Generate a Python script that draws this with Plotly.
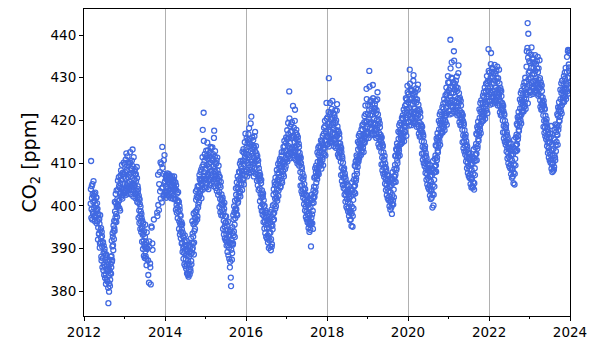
import pandas as pd
import plotly.graph_objects as go

N = None
# CO2 readings (ppm): set "a" every 4 days from the start date, set "b" offset by 2 days
co2_2012a = [400.5,410.5,399.2,401.8,405.1,398.6,400.9,402.3, 399.5,401.2,397.8,400.3,398.9,402.0,399.1,
             396.4,398.2,394.9,397.0,393.5,395.8,391.2,394.3, 392.6,388.1,393.9,390.4,387.7,391.5,388.9,386.2,
             389.3,385.8,387.4,383.9,388.6,384.7,386.1, 382.3,385.2,377.2,383.6,381.8,384.9,382.7,386.4,
             384.1,388.2,386.9,390.5,392.8,389.6,394.2, 396.5,394.1,398.7,397.3,400.6,396.2,399.8,401.5,
             400.2,403.8,401.1,404.6,399.4,402.9,405.3, 403.1,406.2,404.0,402.5,407.4,405.1,403.7,406.8]
co2_2012b = [403.9,397.2,404.6,396.8,402.7,398.1,405.8,397.5, 402.8,396.4,403.1,397.3,401.9,395.9,400.6,
             399.3,392.1,398.0,393.4,396.9,390.2,397.8,391.5, 394.8,387.2,392.9,385.6,391.3,384.9,390.7,383.8,
             389.9,383.1,388.4,381.7,387.9,382.6,385.2, 386.9,380.8,385.7,379.9,387.4,381.2,384.3,388.1,
             385.6,391.8,387.3,393.6,390.8,395.4,392.2, 394.7,400.9,396.3,402.8,398.1,403.6,397.4,400.2,
             405.9,399.8,406.7,401.3,404.2,398.9,407.1, 408.3,402.1,409.6,401.7,407.8,403.2,410.1,402.9]
co2_2013a = [405.2,407.9,403.6,406.4,412.3,404.8,408.1,402.9, 406.7,409.5,404.2,407.3,405.6,410.1,403.8,
             406.9,404.5,408.6,413.2,405.3,407.7,403.4,406.1, 404.9,407.2,402.8,405.8,403.6,406.5,401.9,
             403.2,400.7,402.4,398.9,401.5,397.6,399.8,396.3, 398.1,394.7,396.5,393.2,395.9,391.8,394.1,390.5,
             392.7,389.4,390.3,387.6,393.8,390.1,N, 387.2,N,382.0,390.4,N,385.6,381.6,N,
             394.9,N,389.7,N,N,396.8,N, N,N,N,N,N,N,397.6,N,
             400.2,N,405.1,N,403.4,410.2,N, 409.8,400.8,413.8,404.3,407.5,N,402.6,411.9]
co2_2013b = [409.7,403.1,410.8,402.6,408.4,404.0,411.6,405.3, 410.2,403.6,409.9,404.8,412.6,402.7,408.8,
             403.9,410.6,405.0,409.3,402.2,411.4,404.7,408.2, 408.6,401.8,407.4,403.0,409.1,400.9,404.6,
             403.9,397.2,401.8,396.0,400.4,394.6,398.7,393.9, 397.1,391.6,395.2,389.9,393.4,388.3,391.1,387.8,
             395.6,388.2,391.5,386.1,389.9,N,N, 383.8,N,391.7,N,386.5,N,N,395.2,
             N,391.2,N,N,N,N,N, N,N,N,N,N,398.4,N,407.3,
             N,399.0,N,407.9,N,401.7,N, 404.1,N,408.9,N,402.3,410.7,N,405.5]
co2_2014a = [405.8,403.1,406.7,404.4,407.2,402.6,405.9,404.1, 406.5,403.7,405.2,407.0,404.6,402.9,406.3,
             404.8,406.9,403.5,405.7,402.4,406.1,404.3,405.5, 403.9,401.6,404.8,400.2,402.9,399.5,401.3,
             398.7,400.9,396.4,399.1,395.8,397.6,393.9,396.2, 394.5,391.3,393.7,390.1,392.5,388.9,391.6,389.4,
             390.7,387.5,389.9,386.2,388.8,384.1,387.3, 383.4,388.1,386.0,390.3,385.2,388.7,387.1,391.4,
             389.8,393.5,391.2,395.7,388.6,394.1,397.3, 398.6,396.2,401.4,399.0,403.8,397.5,401.9,400.3,
             404.6,402.1,406.3,403.5,407.9,405.2,401.8, 406.4,409.2,417.8,405.7,421.8,407.9,410.6,404.3]
co2_2014b = [402.7,407.1,401.9,406.2,403.3,407.6,402.4,405.4, 407.4,402.2,406.8,403.1,405.9,401.8,404.7,
             402.9,406.5,401.7,405.1,403.8,406.9,401.5,404.0, 405.5,399.1,403.6,398.4,401.0,397.1,403.2,
             401.0,394.6,399.9,393.3,397.9,392.4,395.4,391.2, 395.7,389.2,392.9,387.6,390.5,386.3,393.1,385.9,
             391.9,385.3,390.8,384.2,389.4,383.8,386.5, 385.1,390.9,383.9,389.4,384.6,392.4,386.3,389.0,
             396.4,390.1,392.8,398.2,391.4,395.9,394.6, 397.1,403.4,398.5,402.1,396.8,404.6,399.6,403.0,
             400.9,407.2,402.7,405.9,403.4,408.5,406.0, 405.0,411.4,403.8,409.7,415.2,407.0,412.1,406.3]
co2_2015a = [408.7,411.3,406.2,409.5,414.8,407.4,410.9,405.8, 409.1,412.4,407.6,410.2,406.1,413.5,408.3,
             410.7,407.2,412.1,409.3,415.9,408.6,411.5,406.9, 409.8,407.1,410.6,405.4,408.3,404.7,407.5,
             405.9,403.2,406.8,401.6,404.4,400.3,402.7,399.1, 401.4,397.8,400.2,396.5,399.3,395.1,397.6,394.2,
             396.1,393.4,395.3,391.6,394.5,390.8,393.1, 390.2,392.8,385.6,391.4,383.2,389.7,392.1,388.9,
             393.6,391.2,396.8,394.0,398.5,392.7,397.1, 399.4,402.6,398.1,401.5,404.3,400.7,403.9,406.2,
             405.1,407.8,403.4,406.6,409.2,404.9,408.1, 407.3,410.5,406.1,409.8,412.4,408.2,411.6,416.9]
co2_2015b = [405.2,412.9,404.3,411.7,406.9,413.0,403.9,409.8, 406.1,411.6,404.9,413.8,408.0,405.3,411.2,
             413.7,405.8,410.9,404.6,417.6,406.4,412.8,408.0, 404.2,410.0,403.5,411.3,406.3,402.6,409.4,
             406.9,399.7,404.8,398.5,405.6,397.8,401.3,400.5, 401.9,394.6,398.7,393.3,400.7,392.4,396.0,391.9,
             397.5,390.7,392.3,389.2,396.3,388.4,391.5, 387.6,393.9,386.9,394.3,381.2,391.0,387.4,395.0,
             390.9,397.8,393.1,399.9,395.6,401.2,399.0, 404.1,399.2,405.5,397.8,406.9,401.0,402.3,408.0,
             403.0,409.9,402.2,410.5,405.3,408.6,403.7, 412.7,406.4,413.3,405.0,410.9,414.9,407.1,412.2]
co2_2016a = [410.3,413.7,408.5,412.1,415.4,409.6,411.9,418.2, 411.4,414.6,409.2,412.8,420.9,410.7,413.3,
             412.5,409.8,414.1,411.2,416.3,408.9,412.7,410.4, 411.8,408.6,410.9,407.3,409.7,406.2,408.8,
             406.5,404.1,407.2,402.8,405.3,401.9,403.6,400.4, 402.1,398.7,401.3,397.5,400.0,396.3,398.9,395.6,
             397.2,394.8,396.4,393.1,395.7,392.4,394.9, 391.9,396.1,393.7,389.6,395.2,390.4,397.3,394.5,
             398.1,402.6,396.8,400.4,404.9,399.3,403.1, 405.2,401.7,403.9,407.6,404.8,402.3,406.7,408.9,
             406.1,409.4,404.6,408.2,411.8,405.9,409.1, 410.3,407.4,412.6,409.8,413.9,408.6,411.2,414.7]
co2_2016b = [408.0,415.9,406.9,414.6,410.0,416.8,407.7,413.9, 415.7,408.4,419.3,407.8,414.2,410.3,416.0,
             408.1,415.4,406.9,413.6,410.1,417.3,407.5,414.0, 412.3,405.9,411.7,404.8,410.6,403.7,407.2,
             407.8,401.1,405.9,399.7,406.1,398.8,402.6,397.9, 402.9,396.2,399.9,394.7,398.4,393.6,397.3,392.7,
             398.4,392.3,397.5,391.4,396.6,390.1,393.6, 396.9,390.5,398.5,392.2,399.1,391.0,395.4,400.1,
             396.7,403.9,398.4,405.6,401.7,406.6,399.9, 402.0,408.4,401.2,406.1,409.8,403.6,407.7,410.4,
             411.0,404.3,410.6,406.9,412.6,405.4,410.1, 408.1,413.8,406.9,415.2,410.4,412.9,409.2,416.0]
co2_2017a = [412.9,415.6,410.4,414.1,416.8,411.7,426.8,413.5, 414.7,417.3,412.2,415.9,419.6,413.4,416.2,
             413.1,416.4,411.8,414.9,422.5,412.6,415.7,417.8, 414.2,411.5,415.3,412.7,410.9,413.8,411.1,
             410.4,407.9,411.2,406.5,409.1,404.8,407.6,403.9, 406.2,402.7,405.1,401.4,403.9,399.8,402.5,398.6,
             401.3,398.1,400.2,396.9,399.4,395.7,397.8, 396.4,399.6,390.5,397.2,401.3,395.9,398.8,402.1,
             400.7,404.5,402.1,406.8,403.3,407.9,405.4, 408.6,406.2,410.3,407.7,411.9,409.1,412.4,410.6,
             411.3,413.8,409.9,412.6,415.1,410.8,414.2, 413.6,416.9,412.1,415.4,418.7,414.2,417.3,424.1]
co2_2017b = [410.9,417.7,411.9,419.4,412.2,416.0,420.5,411.1, 418.6,412.5,419.1,413.7,417.5,411.9,423.4,
             411.2,418.3,412.7,419.9,413.5,417.1,410.7,416.6, 416.6,409.9,416.1,410.3,414.5,409.4,412.4,
             411.6,404.7,410.0,403.4,408.6,402.8,406.2,401.9, 406.9,400.4,404.0,398.9,402.6,397.4,400.9,396.8,
             402.4,396.1,400.9,394.8,398.3,393.9,396.0, 394.4,401.4,396.0,402.6,398.0,400.8,394.6,403.6,
             401.9,406.6,403.0,408.8,404.4,409.4,407.0, 406.9,412.5,408.1,413.6,407.4,414.0,409.6,412.9,
             410.2,415.3,408.7,414.6,411.3,416.4,409.5, 412.4,418.3,413.5,419.9,411.8,417.5,416.2,420.4]
co2_2018a = [416.3,419.2,414.5,417.8,429.9,415.9,418.6,421.4, 417.4,420.3,415.6,418.9,424.6,416.8,419.5,
             418.2,415.3,420.7,416.9,419.4,414.6,417.7,422.3, 416.5,413.9,417.6,414.8,412.7,415.9,413.2,
             412.8,410.3,413.5,408.9,411.6,407.4,410.1,406.6, 408.4,405.1,407.6,403.8,406.3,402.5,404.9,401.6,
             403.7,400.9,402.8,399.6,401.7,398.4,400.5, 398.9,402.3,395.3,399.8,403.6,397.6,401.4,404.5,
             403.2,407.1,404.8,409.3,405.9,410.6,408.2, 411.4,409.1,413.2,410.4,414.6,411.8,415.3,413.5,
             413.9,416.4,412.5,415.2,417.8,413.6,416.7, 416.1,419.6,414.8,418.2,421.5,416.9,427.4,419.8]
co2_2018b = [414.3,420.8,416.1,422.0,413.9,419.3,424.1,415.2, 421.9,415.0,422.7,414.8,420.6,417.1,421.7,
             414.0,421.3,415.7,422.4,413.6,420.0,416.2,423.8, 418.6,412.0,417.3,411.5,416.9,411.3,414.6,
             413.9,407.2,412.6,405.8,411.1,404.9,408.4,404.1, 408.8,402.6,406.9,401.0,405.5,399.8,403.3,399.4,
             404.9,398.7,403.3,397.6,402.2,396.7,398.6, 396.8,403.8,398.2,405.5,395.1,402.6,399.4,406.1,
             404.6,409.4,402.9,410.4,406.4,411.8,407.5, 409.9,415.0,410.8,416.4,411.2,416.9,413.9,414.7,
             411.9,417.9,413.1,418.9,414.4,419.1,412.6, 414.9,421.0,416.3,423.5,415.6,419.7,425.0,417.4]
co2_2019a = [418.5,421.6,416.9,420.3,431.6,418.1,421.2,424.7, 419.6,422.8,417.9,421.4,428.3,419.1,422.1,
             420.4,417.6,422.9,419.2,421.7,416.8,420.1,424.9, 418.9,416.2,419.8,417.1,415.3,418.4,415.7,
             415.1,412.6,416.0,411.3,414.2,409.8,412.5,408.9, 410.8,407.5,409.9,406.2,408.7,404.9,407.3,404.1,
             406.3,403.4,405.5,402.2,404.4,401.1,403.2, 401.6,404.9,398.1,402.5,406.1,400.3,403.8,406.9,
             405.7,409.6,407.3,411.8,408.4,413.1,410.6, 413.9,411.5,415.7,412.9,417.1,414.3,417.8,415.9,
             416.4,419.1,414.9,417.8,420.4,416.2,419.3, 418.8,421.9,417.3,420.6,423.8,419.4,422.5,428.1]
co2_2019b = [417.2,423.6,415.9,422.4,427.9,419.3,424.3,416.5, 424.6,418.1,423.8,416.9,425.2,419.4,422.7,
             416.6,423.8,418.3,424.6,415.9,422.4,417.9,426.6, 421.4,414.4,420.2,413.7,419.3,413.9,416.6,
             416.1,409.7,414.7,408.3,413.9,407.5,410.9,406.8, 411.7,405.2,409.1,403.7,408.0,402.5,405.9,401.8,
             407.1,401.3,405.8,399.9,404.6,399.1,401.0, 399.6,406.2,400.4,407.9,401.3,405.4,402.0,408.6,
             406.9,411.7,405.6,413.3,408.8,414.6,410.0, 412.2,417.4,413.4,418.9,411.8,419.4,414.5,417.0,
             414.6,420.6,415.6,421.2,416.9,422.5,415.1, 417.6,423.4,418.6,425.2,416.4,424.9,421.8,426.6]
co2_2020a = [421.2,424.3,419.6,422.9,431.9,420.8,423.7,426.9, 422.1,425.2,420.4,423.8,429.3,421.6,424.5,
             422.8,419.9,425.1,421.5,424.2,419.1,422.4,427.2, 421.3,418.6,422.2,419.5,417.7,420.8,418.1,
             417.6,415.1,418.5,413.8,416.7,412.3,415.0,411.4, 413.3,410.0,412.4,408.7,411.2,407.4,409.8,406.6,
             408.8,405.9,408.0,404.7,406.9,403.6,405.7, 403.9,407.2,399.6,404.8,408.4,402.6,406.1,409.2,
             407.9,411.8,409.5,414.0,410.7,415.3,412.9, 416.1,413.7,417.9,415.1,419.3,416.5,420.0,418.1,
             418.7,421.4,417.2,420.1,422.7,418.5,421.6, 421.1,424.2,419.6,422.9,426.1,421.7,424.8,430.4]
co2_2020b = [419.6,426.2,418.8,425.0,428.6,421.4,427.3,418.9, 427.1,420.6,426.3,419.4,430.6,422.0,425.9,
             419.3,426.6,420.7,427.5,418.5,424.9,420.5,428.4, 423.7,416.9,422.6,416.2,421.9,416.4,419.1,
             418.8,412.2,417.2,410.8,416.3,410.0,413.5,409.3, 414.0,407.7,411.7,406.1,410.4,405.0,408.4,404.3,
             409.6,403.8,408.4,402.4,407.1,401.6,403.5, 401.9,408.7,402.8,410.5,400.1,407.8,404.5,411.0,
             409.4,414.2,408.0,415.8,411.3,417.0,412.5, 414.6,419.9,415.9,421.4,414.3,422.0,417.0,419.5,
             417.2,423.1,418.1,423.9,419.3,425.0,417.7, 420.0,425.9,421.2,427.7,419.0,426.5,424.2,428.9]
co2_2021a = [423.9,427.1,422.2,425.6,438.9,423.4,426.4,433.6, 424.8,427.9,423.1,426.5,436.2,424.3,427.2,
             425.5,422.6,427.8,424.2,426.9,421.8,425.1,431.1, 424.0,421.3,424.9,422.2,420.4,423.5,420.8,
             420.3,417.8,421.2,416.5,419.4,415.0,417.7,414.1, 416.0,412.7,415.1,411.4,413.9,410.1,412.5,409.3,
             411.5,408.6,410.7,407.4,409.6,406.3,408.4, 406.6,409.9,404.3,407.5,411.1,405.3,408.8,411.9,
             410.6,414.5,412.2,416.7,413.4,418.0,415.6, 418.8,416.4,420.6,417.8,422.0,419.2,422.7,420.8,
             421.4,424.1,419.9,422.8,425.4,421.2,424.3, 423.8,426.9,422.3,425.6,428.8,424.4,427.5,436.7]
co2_2021b = [422.3,428.9,421.4,427.7,432.2,424.1,430.0,421.6, 429.8,423.3,428.9,422.1,434.0,424.7,428.6,
             421.9,429.3,423.4,430.3,421.2,427.6,423.2,432.9, 426.4,419.6,425.3,418.9,424.6,419.1,421.8,
             421.5,414.9,419.9,413.5,419.0,412.7,416.2,412.0, 416.7,410.4,414.4,408.8,413.1,407.7,411.1,407.0,
             412.3,406.5,411.1,405.1,409.8,404.3,406.2, 404.6,411.4,405.5,413.2,403.8,410.5,407.2,413.7,
             412.1,416.9,410.7,418.5,414.0,419.7,415.2, 417.3,422.6,418.6,424.1,417.0,424.7,419.7,422.2,
             419.9,425.8,420.8,426.6,422.0,427.7,420.4, 422.7,428.6,423.9,430.4,421.7,429.2,426.9,431.6]
co2_2022a = [426.1,429.3,424.4,427.8,433.2,425.6,428.6,431.4, 427.0,430.1,425.3,428.7,426.2,429.4,424.9,
             427.7,424.8,430.0,426.4,429.1,424.0,427.3,425.6, 426.2,423.5,427.1,424.4,422.6,425.7,423.0,
             422.5,420.0,423.4,418.7,421.6,417.2,419.9,416.3, 418.2,414.9,417.3,413.6,416.1,412.3,414.7,411.5,
             413.7,410.8,412.9,409.6,411.8,408.5,410.6, 408.8,412.1,405.3,409.7,413.3,407.5,411.0,414.1,
             412.8,416.7,414.4,418.9,415.6,420.2,417.8, 421.0,418.6,422.8,420.0,424.2,421.4,424.9,423.0,
             423.6,426.3,422.1,425.0,427.6,423.4,426.5, 426.0,429.1,436.2,427.8,442.8,434.7,429.7,435.9]
co2_2022b = [424.6,431.2,423.7,430.0,435.8,426.4,432.3,423.9, 432.1,425.6,431.2,424.4,433.0,427.0,430.9,
             424.2,431.6,425.7,432.6,423.5,429.9,425.5,431.9, 428.7,421.9,427.6,421.2,426.9,421.4,424.1,
             423.8,417.2,422.2,415.8,421.3,415.0,418.5,414.3, 419.0,412.7,416.7,411.1,415.4,410.0,413.4,409.3,
             414.6,408.8,413.4,407.4,412.1,406.6,408.5, 406.9,413.7,407.8,415.5,405.0,412.8,409.5,416.0,
             414.4,419.2,413.0,420.8,416.3,422.0,417.5, 419.6,424.9,420.9,426.4,419.3,427.0,422.0,424.5,
             422.2,428.1,423.1,428.9,424.3,430.0,422.7, 425.0,432.6,426.2,437.0,424.0,440.3,431.2,433.9]
co2_2023a = [428.3,431.5,426.6,430.0,435.4,427.8,430.8,433.6, 429.2,432.3,427.5,430.9,428.4,431.6,427.1,
             429.9,427.0,432.2,428.6,431.3,426.2,429.5,427.8, 427.4,424.7,428.3,425.6,423.8,426.9,424.2,
             423.7,421.2,424.6,419.9,422.8,418.4,421.1,417.5, 419.4,416.1,418.5,414.8,417.3,413.5,415.9,412.7,
             414.9,412.0,416.1,410.8,413.0,409.7,411.8, 410.0,413.3,408.5,411.9,415.5,410.7,414.2,417.3,
             415.0,418.9,416.6,421.1,417.8,422.4,420.0, 423.2,420.8,425.0,422.2,426.4,423.6,427.1,425.2,
             425.8,428.5,424.3,427.2,429.8,425.6,428.7, 428.2,431.3,426.8,430.1,436.5,429.9,432.4,435.8]
co2_2023b = [426.9,433.5,426.0,432.3,437.1,428.7,434.6,426.2, 434.4,427.9,433.5,426.7,435.3,429.3,433.2,
             426.5,433.9,428.0,434.9,425.8,432.2,427.8,434.1, 429.9,423.2,428.9,422.5,428.2,422.7,425.4,
             424.1,418.5,423.5,417.1,422.6,416.3,419.8,415.6, 420.3,414.0,418.0,412.4,416.7,411.3,414.7,410.6,
             416.9,410.1,418.7,408.7,414.4,407.9,410.8, 408.2,415.8,409.1,417.8,411.3,419.1,412.8,418.3,
             416.7,421.5,414.3,423.1,418.6,424.3,419.8, 421.9,427.2,423.2,428.7,421.6,429.3,424.3,426.8,
             424.5,430.4,425.4,431.2,426.6,432.3,425.0, 427.3,434.9,428.5,436.2,426.3,433.1,431.6,436.4]

series_start = [
    ("2012-03-01", co2_2012a), ("2012-03-03", co2_2012b),
    ("2013-01-01", co2_2013a), ("2013-01-03", co2_2013b),
    ("2014-01-01", co2_2014a), ("2014-01-03", co2_2014b),
    ("2015-01-01", co2_2015a), ("2015-01-03", co2_2015b),
    ("2016-01-01", co2_2016a), ("2016-01-03", co2_2016b),
    ("2017-01-01", co2_2017a), ("2017-01-03", co2_2017b),
    ("2018-01-01", co2_2018a), ("2018-01-03", co2_2018b),
    ("2019-01-01", co2_2019a), ("2019-01-03", co2_2019b),
    ("2020-01-01", co2_2020a), ("2020-01-03", co2_2020b),
    ("2021-01-01", co2_2021a), ("2021-01-03", co2_2021b),
    ("2022-01-01", co2_2022a), ("2022-01-03", co2_2022b),
    ("2023-01-01", co2_2023a), ("2023-01-03", co2_2023b),
]

dates, values = [], []
for start, vals in series_start:
    d = pd.date_range(start, periods=len(vals), freq="4D")
    for di, v in zip(d, vals):
        if v is not None:
            dates.append(di)
            values.append(v)

x_ticks = ["2012-01-01", "2014-01-01", "2016-01-01", "2018-01-01", "2020-01-01", "2022-01-01", "2024-01-01"]
x_tick_labels = ["2012", "2014", "2016", "2018", "2020", "2022", "2024"]
x_minor = ["2013-01-01", "2015-01-01", "2017-01-01", "2019-01-01", "2021-01-01", "2023-01-01"]
y_ticks = [380, 390, 400, 410, 420, 430, 440]

fig = go.Figure()
fig.add_trace(go.Scatter(
    x=dates, y=values, mode="markers",
    marker=dict(symbol="circle-open", size=5, color="#4169E1", line=dict(width=1.3)),
    showlegend=False,
))

# the page body has an 8px margin, so the figure is sized to fit the 600x360 window
axis_font = dict(family="DejaVu Sans", size=13.5, color="black")
fig.update_layout(
    width=592, height=352,
    margin=dict(l=76, r=30, t=1, b=44),
    paper_bgcolor="white", plot_bgcolor="white",
    font=dict(family="DejaVu Sans", color="black"),
)
fig.update_xaxes(
    type="date", range=["2012-01-01", "2024-01-01"], automargin=False,
    tickvals=x_ticks, ticktext=x_tick_labels, tickfont=axis_font,
    ticks="outside", ticklen=4, tickwidth=1, tickcolor="black",
    showgrid=True, gridcolor="#b0b0b0", gridwidth=1,
    showline=True, linecolor="black", linewidth=1, mirror=True,
    minor=dict(tickvals=x_minor, ticks="outside", ticklen=2, tickcolor="black", showgrid=False),
    zeroline=False,
)
fig.update_yaxes(
    range=[374.2, 446.1], automargin=False,
    tickvals=y_ticks, tickfont=axis_font,
    ticks="outside", ticklen=4, tickwidth=1, tickcolor="black",
    showgrid=False, showline=True, linecolor="black", linewidth=1, mirror=True,
    title=dict(text="CO<sub>2</sub> [ppm]", font=dict(family="DejaVu Sans", size=19, color="black"), standoff=8),
    zeroline=False,
)

fig.write_html("out.html")
